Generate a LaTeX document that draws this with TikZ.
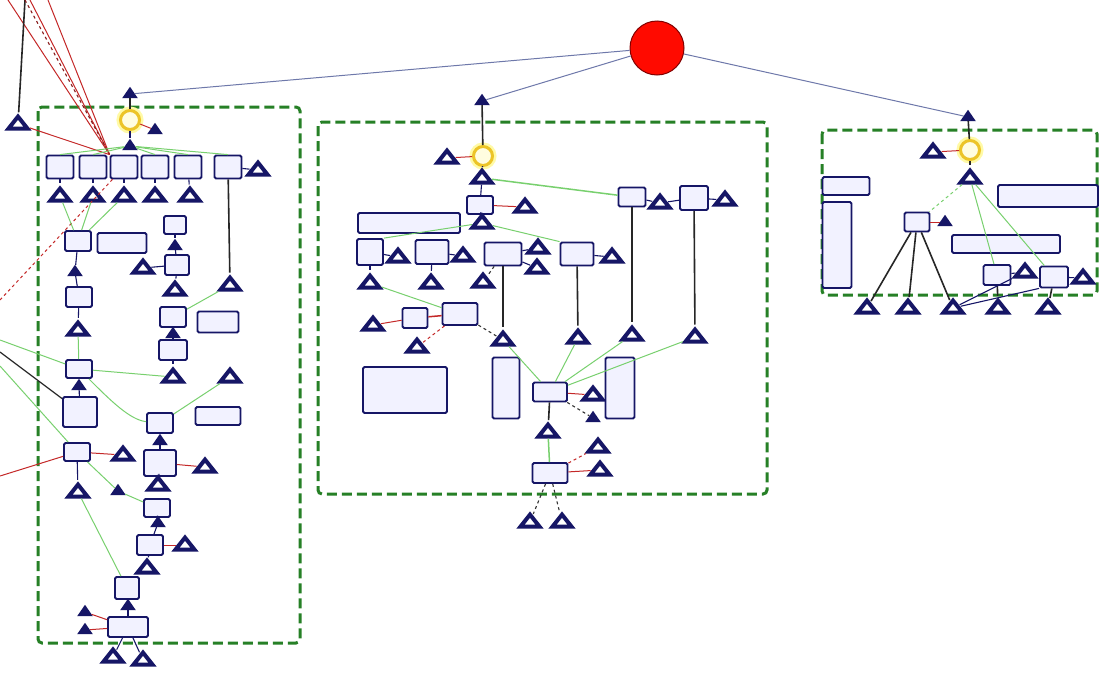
\documentclass[tikz,border=0pt]{standalone}
\usetikzlibrary{shapes.geometric}
\definecolor{navy}{RGB}{22,22,102}
\definecolor{gold}{RGB}{236,196,40}
\definecolor{linkgreen}{RGB}{120,208,110}
\definecolor{linkred}{RGB}{196,40,40}
\definecolor{framegreen}{RGB}{38,128,38}
\definecolor{toplink}{RGB}{110,120,170}
\begin{document}
\begin{tikzpicture}[x=1pt, y=-1pt,
    box/.style={draw=navy, line width=1.8pt, fill=blue!5, rounded corners=1.5pt, inner sep=0pt},
    bx/.style 2 args={box, minimum width=#1pt, minimum height=#2pt},
    tri/.style={isosceles triangle, isosceles triangle stretches, shape border rotate=90,
      minimum width=19pt, minimum height=12pt, draw=navy, line width=4pt, fill=white, inner sep=0pt},
    hat/.style={isosceles triangle, isosceles triangle stretches, shape border rotate=90,
      minimum width=11pt, minimum height=8pt, draw=navy, line width=2.4pt, fill=navy, inner sep=0pt},
    ring/.style={circle, draw=gold, line width=3pt, fill=yellow!12, minimum size=19pt,
      preaction={draw=yellow!35, line width=8pt}},
    frame/.style={draw=framegreen, line width=3pt, dash pattern=on 10pt off 5pt, rounded corners=4pt},
    lk/.style={draw=navy, line width=1.1pt},
    tree/.style={draw=black!85, line width=1.6pt},
    gl/.style={draw=linkgreen, line width=1pt},
    rl/.style={draw=linkred, line width=1pt},
    dl/.style={draw=black!80, line width=1.1pt, dashed}]
  \useasboundingbox[fill=white] (0,0) rectangle (1099,675);

  % group frames
  \draw[frame] (38,107) rectangle (300,643);
  \draw[frame] (318,122) rectangle (767,494);
  \draw[frame] (822,130) rectangle (1097,295);

  % root
  \node[circle, fill=red!92!orange, draw=red!50!black, line width=1pt, minimum size=54pt] (root) at (657,48) {};
  \node[hat] (lh0) at (130,94) {};
  \node[hat] (mh0) at (482,101) {};
  \node[hat] (rh0) at (968,117) {};
  \draw[toplink, line width=1pt] (root) -- (lh0);
  \draw[toplink, line width=1pt] (root) -- (mh0);
  \draw[toplink, line width=1pt] (root) -- (rh0);

  % ---- left group ----
  \node[tri] (lt0) at (18,124) {};
  \node[ring] (lr) at (130,120) {};
  \node[hat] (lh1) at (155,130) {};
  \node[hat] (lh2) at (130,146) {};
  \node[bx={27}{23}] (la1) at (60,167) {};
  \node[bx={27}{23}] (la2) at (93,167) {};
  \node[bx={27}{23}] (la3) at (124,167) {};
  \node[bx={27}{23}] (la4) at (155,167) {};
  \node[bx={27}{23}] (la5) at (188,167) {};
  \node[bx={27}{23}] (la6) at (228,167) {};
  \node[tri] (lt1) at (60,196) {};
  \node[tri] (lt2) at (93,196) {};
  \node[tri] (lt3) at (124,196) {};
  \node[tri] (lt4) at (155,196) {};
  \node[tri] (lt5) at (190,196) {};
  \node[tri] (lt6) at (258,170) {};
  \node[tri] (lt7) at (230,285) {};
  \node[bx={26}{20}] (lb1) at (78,241) {};
  \node[bx={49}{20}] (ln1) at (122,243) {};
  \node[hat] (lh3) at (75,272) {};
  \node[bx={22}{18}] (lb2) at (175,225) {};
  \node[hat] (lh4) at (175,246) {};
  \node[bx={24}{20}] (lb3) at (177,265) {};
  \node[tri] (lt8) at (143,268) {};
  \node[tri] (lt9) at (175,290) {};
  \node[bx={26}{20}] (lb4) at (79,297) {};
  \node[tri] (lt10) at (78,330) {};
  \node[bx={26}{20}] (lb5) at (173,317) {};
  \node[bx={41}{21}] (ln2) at (218,322) {};
  \node[hat] (lh5) at (173,334) {};
  \node[bx={28}{20}] (lb6) at (173,350) {};
  \node[tri] (lt11) at (173,377) {};
  \node[bx={26}{18}] (lb7) at (79,369) {};
  \node[hat] (lh6) at (79,386) {};
  \node[bx={34}{30}] (lb8) at (80,412) {};
  \node[tri] (lt12) at (230,377) {};
  \node[bx={45}{18}] (ln3) at (218,416) {};
  \node[bx={26}{20}] (lb9) at (160,423) {};
  \node[hat] (lh7) at (160,441) {};
  \node[bx={26}{18}] (lb10) at (77,452) {};
  \node[tri] (lt13) at (123,455) {};
  \node[bx={32}{26}] (lb11) at (160,463) {};
  \node[tri] (lt14) at (205,467) {};
  \node[tri] (lt15) at (78,492) {};
  \node[hat] (lh8) at (118,491) {};
  \node[tri] (lt16) at (158,485) {};
  \node[bx={26}{18}] (lb12) at (157,508) {};
  \node[hat] (lh9) at (158,523) {};
  \node[bx={26}{20}] (lb13) at (150,545) {};
  \node[tri] (lt17) at (185,545) {};
  \node[tri] (lt18) at (147,568) {};
  \node[bx={24}{22}] (lb14) at (127,588) {};
  \node[hat] (lh10) at (128,606) {};
  \node[bx={40}{20}] (lb15) at (128,627) {};
  \node[hat] (lh11) at (85,612) {};
  \node[hat] (lh12) at (85,630) {};
  \node[tri] (lt19) at (113,657) {};
  \node[tri] (lt20) at (143,660) {};

  % lines coming in from the left edge
  \coordinate (e1) at (8,0);
  \coordinate (e2) at (30,0);
  \coordinate (e3) at (48,0);
  \coordinate (e4) at (25,0);
  \coordinate (e5) at (0,300);
  \coordinate (e6) at (0,340);
  \coordinate (e7) at (0,352);
  \coordinate (e8) at (0,366);
  \coordinate (e9) at (0,476);
  \draw[rl] (e1) -- (la3.north west);
  \draw[rl] (e2) -- (la3.north west);
  \draw[rl] (e3) -- (la3.north west);
  \draw[tree] (e4) -- (lt0);
  \draw[dl, draw=linkred!70!black] (e4) -- (la3.north west);
  \draw[rl] (lt0) -- (la3.north west);
  \draw[rl, dashed] (e5) -- (la3);
  \draw[gl] (e6) -- (lb7);
  \draw[tree, line width=1.2pt] (e7) -- (lb8);
  \draw[gl] (e8) -- (lb10);
  \draw[rl] (e9) -- (lb10);

  \draw[tree] (lh0) -- (lr);
  \draw[rl] (lr) -- (lh1);
  \draw[lk] (lr) -- (lh2);
  \draw[gl] (lh2) -- (la1.north);
  \draw[gl] (lh2) -- (la2.north);
  \draw[gl] (lh2) -- (la4.north);
  \draw[gl] (lh2) -- (la5.north);
  \draw[gl] (lh2) -- (la6.north);
  \draw[lk] (la1) -- (lt1);
  \draw[lk] (la2) -- (lt2);
  \draw[lk] (la3) -- (lt3);
  \draw[lk] (la4) -- (lt4);
  \draw[lk] (la5) -- (lt5);
  \draw[lk] (la6) -- (lt6);
  \draw[tree] (la6) -- (lt7);
  \draw[gl] (lt1) -- (lb1);
  \draw[gl] (lt2) -- (lb1);
  \draw[gl] (lt3) -- (lb1);
  \draw[lk] (lb1) -- (lh3);
  \draw[lk] (lh3) -- (lb4);
  \draw[lk] (lb4) -- (lt10);
  \draw[gl] (lt10) -- (lb7);
  \draw[lk] (lb7) -- (lh6);
  \draw[lk] (lh6) -- (lb8);
  \draw[lk] (lb2) -- (lh4);
  \draw[lk] (lh4) -- (lb3);
  \draw[lk] (lt8) -- (lb3);
  \draw[lk] (lb3) -- (lt9);
  \draw[gl] (lt7) -- (lb5);
  \draw[lk] (lb5) -- (lh5);
  \draw[lk] (lh5) -- (lb6);
  \draw[lk] (lb6) -- (lt11);
  \draw[gl] (lb7) -- (lt11);
  \draw[gl] (lb7) .. controls (110,400) and (130,420) .. (lb9);
  \draw[gl] (lb9) -- (lt12);
  \draw[lk] (lb9) -- (lh7);
  \draw[lk] (lh7) -- (lb11);
  \draw[rl] (lb10) -- (lt13);
  \draw[lk] (lb10) -- (lt15);
  \draw[gl] (lb10) -- (lh8);
  \draw[gl] (lh8) -- (lb12);
  \draw[rl] (lb11) -- (lt14);
  \draw[lk] (lb11) -- (lt16);
  \draw[lk] (lb12) -- (lh9);
  \draw[lk] (lh9) -- (lb13);
  \draw[rl] (lb13) -- (lt17);
  \draw[lk] (lb13) -- (lt18);
  \draw[gl] (lt15) -- (lb14);
  \draw[lk] (lb14) -- (lh10);
  \draw[lk] (lh10) -- (lb15);
  \draw[rl] (lh11) -- (lb15);
  \draw[rl] (lh12) -- (lb15);
  \draw[lk] (lb15) -- (lt19);
  \draw[lk] (lb15) -- (lt20);

  % ---- middle group ----
  \node[ring] (mr) at (483,156) {};
  \node[tri] (mt1) at (447,158) {};
  \node[tri] (mt2) at (482,178) {};
  \node[bx={26}{18}] (mb1) at (480,205) {};
  \node[tri] (mt3) at (525,207) {};
  \node[tri] (mt4) at (482,223) {};
  \node[bx={102}{20}] (mn1) at (409,223) {};
  \node[bx={26}{26}] (mb2) at (370,252) {};
  \node[tri] (mt5) at (398,257) {};
  \node[bx={33}{24}] (mb3) at (432,252) {};
  \node[tri] (mt6) at (463,256) {};
  \node[bx={37}{23}] (mb4) at (503,254) {};
  \node[tri] (mt7) at (538,248) {};
  \node[tri] (mt8) at (537,268) {};
  \node[bx={33}{23}] (mb5) at (577,254) {};
  \node[tri] (mt9) at (612,257) {};
  \node[bx={27}{19}] (mb6) at (632,197) {};
  \node[tri] (mt10) at (660,203) {};
  \node[bx={28}{24}] (mb7) at (694,198) {};
  \node[tri] (mt11) at (725,200) {};
  \node[tri] (mt12) at (370,283) {};
  \node[tri] (mt13) at (431,283) {};
  \node[tri] (mt14) at (483,282) {};
  \node[tri] (mt15) at (503,340) {};
  \node[tri] (mt16) at (578,338) {};
  \node[tri] (mt17) at (632,335) {};
  \node[tri] (mt18) at (695,337) {};
  \node[bx={25}{20}] (mb8) at (415,318) {};
  \node[tri] (mt19) at (373,325) {};
  \node[bx={35}{22}] (mb9) at (460,314) {};
  \node[tri] (mt20) at (417,347) {};
  \node[bx={84}{46}] (mn2) at (405,390) {};
  \node[bx={27}{61}] (mn3) at (506,388) {};
  \node[bx={34}{19}] (mb10) at (550,392) {};
  \node[tri] (mt21) at (593,395) {};
  \node[hat] (mh1) at (593,418) {};
  \node[bx={29}{61}] (mn4) at (620,388) {};
  \node[tri] (mt22) at (548,432) {};
  \node[tri] (mt23) at (598,447) {};
  \node[tri] (mt24) at (600,470) {};
  \node[bx={35}{20}] (mb11) at (550,473) {};
  \node[tri] (mt25) at (530,522) {};
  \node[tri] (mt26) at (562,522) {};

  \draw[tree] (mh0) -- (mr);
  \draw[rl] (mr) -- (mt1);
  \draw[lk] (mr) -- (mt2);
  \draw[lk] (mt2) -- (mb1);
  \draw[rl] (mb1) -- (mt3);
  \draw[lk] (mb1) -- (mt4);
  \draw[gl, line width=1.5pt] (mt2) -- (mb6);
  \draw[gl] (mt4) -- (mb2.north east);
  \draw[gl] (mt4) -- (mb5.north west);
  \draw[lk] (mb2) -- (mt5);
  \draw[lk] (mb2) -- (mt12);
  \draw[lk] (mb3) -- (mt6);
  \draw[lk] (mb3) -- (mt13);
  \draw[lk] (mb4) -- (mt7);
  \draw[lk] (mb4) -- (mt8);
  \draw[dl] (mb4) -- (mt14);
  \draw[lk] (mb5) -- (mt9);
  \draw[lk] (mb6) -- (mt10);
  \draw[lk] (mt10) -- (mb7);
  \draw[lk] (mb7) -- (mt11);
  \draw[tree] (mb4) -- (mt15);
  \draw[tree] (mb5) -- (mt16);
  \draw[tree] (mb6) -- (mt17);
  \draw[tree] (mb7) -- (mt18);
  \draw[gl] (mt12) -- (mb9);
  \draw[rl, line width=1.5pt] (mb8) -- (mb9);
  \draw[rl] (mb8) -- (mt19);
  \draw[rl, dashed] (mb9) -- (mt20);
  \draw[dl] (mb9) -- (mt15);
  \draw[gl] (mb10) -- (mt15);
  \draw[gl] (mb10) -- (mt16);
  \draw[gl] (mb10) -- (mt17);
  \draw[gl] (mb10) -- (mt18);
  \draw[rl] (mb10) -- (mt21);
  \draw[dl] (mb10) -- (mh1);
  \draw[tree] (mb10) -- (mt22);
  \draw[gl, line width=1.5pt] (mt22) -- (mb11);
  \draw[rl, dashed] (mb11) -- (mt23);
  \draw[rl] (mb11) -- (mt24);
  \draw[dl] (mb11) -- (mt25);
  \draw[dl] (mb11) -- (mt26);

  % ---- right group ----
  \node[ring] (rr) at (970,150) {};
  \node[tri] (rt1) at (933,152) {};
  \node[tri] (rt2) at (970,178) {};
  \node[bx={47}{18}] (rn1) at (846,186) {};
  \node[bx={29}{86}] (rn2) at (837,245) {};
  \node[bx={25}{19}] (rb1) at (917,222) {};
  \node[hat] (rh1) at (945,222) {};
  \node[bx={100}{22}] (rn3) at (1048,196) {};
  \node[bx={108}{18}] (rn4) at (1006,244) {};
  \node[bx={27}{20}] (rb2) at (997,275) {};
  \node[tri] (rt3) at (1025,272) {};
  \node[bx={28}{21}] (rb3) at (1054,277) {};
  \node[tri] (rt4) at (1083,278) {};
  \node[tri] (rt5) at (867,308) {};
  \node[tri] (rt6) at (908,308) {};
  \node[tri] (rt7) at (953,308) {};
  \node[tri] (rt8) at (998,308) {};
  \node[tri] (rt9) at (1048,308) {};

  \draw[tree] (rh0) -- (rr);
  \draw[rl] (rr) -- (rt1);
  \draw[tree] (rr) -- (rt2);
  \draw[gl, dashed] (rt2) -- (rb1);
  \draw[gl] (rt2) -- (rb2);
  \draw[gl] (rt2) -- (rb3);
  \draw[rl] (rb1) -- (rh1);
  \draw[tree] (rb1) -- (rt5);
  \draw[tree] (rb1) -- (rt6);
  \draw[tree] (rb1) -- (rt7);
  \draw[lk] (rb2) -- (rt3);
  \draw[tree] (rb2) -- (rt8);
  \draw[lk] (rb3) -- (rt4);
  \draw[tree] (rb3) -- (rt9);
  \draw[lk] (rt7) -- (rt3);
  \draw[lk] (rt7) -- (rb3.south west);
\end{tikzpicture}
\end{document}
